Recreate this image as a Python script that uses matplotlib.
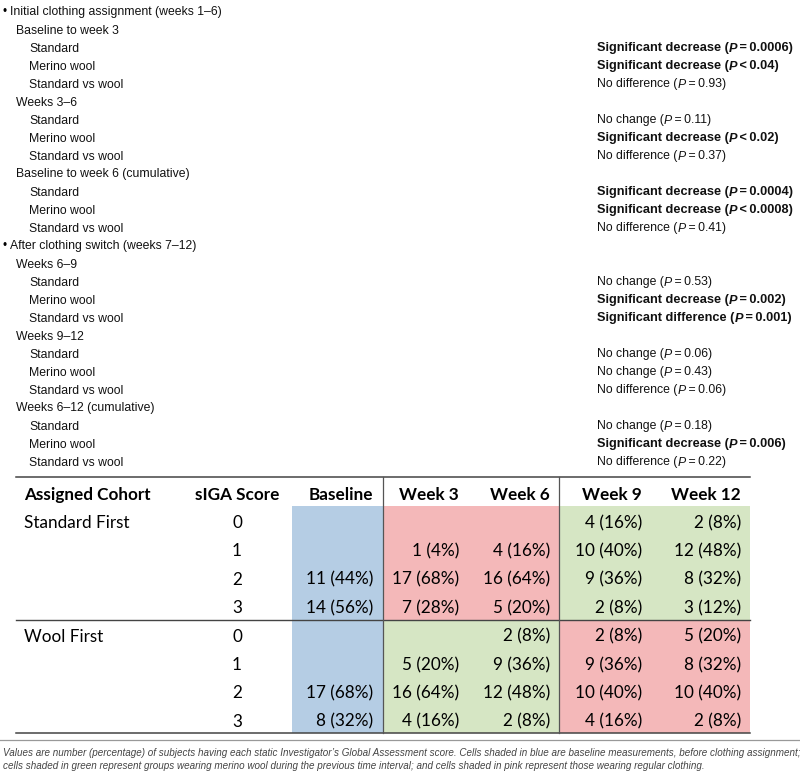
import matplotlib
matplotlib.use("Agg")
import matplotlib.pyplot as plt
from matplotlib.patches import Rectangle

# ---------- statistical summary (top block) ----------
summary_level = [0, 1, 2, 2, 2, 1, 2, 2, 2, 1, 2, 2, 2,
                 0, 1, 2, 2, 2, 1, 2, 2, 2, 1, 2, 2, 2]
summary_label = [
    "Initial clothing assignment (weeks 1\u20136)",
    "Baseline to week 3", "Standard", "Merino wool", "Standard vs wool",
    "Weeks 3\u20136", "Standard", "Merino wool", "Standard vs wool",
    "Baseline to week 6 (cumulative)", "Standard", "Merino wool", "Standard vs wool",
    "After clothing switch (weeks 7\u201312)",
    "Weeks 6\u20139", "Standard", "Merino wool", "Standard vs wool",
    "Weeks 9\u201312", "Standard", "Merino wool", "Standard vs wool",
    "Weeks 6\u201312 (cumulative)", "Standard", "Merino wool", "Standard vs wool",
]
# (result text, comparison sign, P value) -- empty for heading lines
summary_result = ["", "", "Significant decrease", "Significant decrease", "No difference",
                  "", "No change", "Significant decrease", "No difference",
                  "", "Significant decrease", "Significant decrease", "No difference",
                  "", "", "No change", "Significant decrease", "Significant difference",
                  "", "No change", "No change", "No difference",
                  "", "No change", "Significant decrease", "No difference"]
summary_sign = ["", "", "=", "<", "=", "", "=", "<", "=", "", "=", "<", "=",
                "", "", "=", "=", "=", "", "=", "=", "=", "", "=", "=", "="]
summary_p = ["", "", "0.0006", "0.04", "0.93", "", "0.11", "0.02", "0.37",
             "", "0.0004", "0.0008", "0.41", "", "", "0.53", "0.002", "0.001",
             "", "0.06", "0.43", "0.06", "", "0.18", "0.006", "0.22"]

# ---------- sIGA table ----------
cohorts = ["Standard First", "Wool First"]
scores = ["0", "1", "2", "3"]
columns = ["Baseline", "Week 3", "Week 6", "Week 9", "Week 12"]
std_counts = [[None, None, 11, 14], [None, 1, 17, 7], [None, 4, 16, 5],
              [4, 10, 9, 2], [2, 12, 8, 3]]
std_pct = [[None, None, 44, 56], [None, 4, 68, 28], [None, 16, 64, 20],
           [16, 40, 36, 8], [8, 48, 32, 12]]
wool_counts = [[None, None, 17, 8], [None, 5, 16, 4], [2, 9, 12, 2],
               [2, 9, 10, 4], [5, 8, 10, 2]]
wool_pct = [[None, None, 68, 32], [None, 20, 64, 16], [8, 36, 48, 8],
            [8, 36, 40, 16], [20, 32, 40, 8]]
# shading per cohort per column: B = baseline, W = wool, S = standard clothing
std_shade = ["B", "S", "S", "W", "W"]
wool_shade = ["B", "W", "W", "S", "S"]

footnote = [
    "Values are number (percentage) of subjects having each static Investigator\u2019s Global "
    "Assessment score. Cells shaded in blue are baseline measurements, before clothing assignment;",
    "cells shaded in green represent groups wearing merino wool during the previous time interval; "
    "and cells shaded in pink represent those wearing regular clothing.",
]

SHADE = {"B": "#b5cde4", "W": "#d6e6c4", "S": "#f4b8b9"}
TOP_FONT = "Liberation Sans"
TAB_FONT = "Lato"
TOP_FS = 8.8
TAB_FS = 12.3

fig = plt.figure(figsize=(8.0, 7.73), dpi=100)
ax = fig.add_axes([0, 0, 1, 1])
ax.set_xlim(0, 800)
ax.set_ylim(773, 0)
ax.axis("off")

# ---------- top block ----------
indent = [10, 16, 29]
for i, (lvl, lab) in enumerate(zip(summary_level, summary_label)):
    yb = 15.5 + 18 * i
    if lvl == 0:
        ax.text(2.5, yb, "\u2022", fontsize=TOP_FS - 0.3, family=TOP_FONT, va="baseline")
    ax.text(indent[lvl], yb, lab, fontsize=TOP_FS, family=TOP_FONT, va="baseline", color="#111")
    res = summary_result[i]
    if not res:
        continue
    bold = res.startswith("Significant")
    w = "bold" if bold else "normal"
    fs = 9.2 if bold else TOP_FS
    t = ax.text(597, yb, res + " (", fontsize=fs, family=TOP_FONT, fontweight=w,
                va="baseline", color="#111")
    t = ax.annotate("P", xy=(1, 0), xycoords=t, va="bottom", fontsize=fs,
                    family=TOP_FONT, fontweight=w, fontstyle="italic", color="#111")
    ax.annotate("\u2009%s\u2009%s)" % (summary_sign[i], summary_p[i]), xy=(1, 0), xycoords=t,
                va="bottom", fontsize=fs, family=TOP_FONT, fontweight=w, color="#111")

# ---------- table ----------
left, right = 16, 750
col_right = [373, 459, 550, 642, 741]
shade_edges = [(292, 383), (383, 471), (471, 559), (559, 655), (655, 750)]
top_rule, head_bottom, row_h = 477, 506, 28.4

groups = [(std_counts, std_pct, std_shade), (wool_counts, wool_pct, wool_shade)]
for g, (counts, pcts, shade) in enumerate(groups):
    g_top = head_bottom + g * 4 * row_h
    for c in range(len(columns)):
        x0, x1 = shade_edges[c]
        ax.add_patch(Rectangle((x0, g_top), x1 - x0, 4 * row_h,
                               facecolor=SHADE[shade[c]], edgecolor="none", zorder=1))
    for r, sc in enumerate(scores):
        yb = g_top + r * row_h + 22
        if r == 0:
            ax.text(24, yb, cohorts[g], fontsize=TAB_FS, family=TAB_FONT, va="baseline")
        ax.text(237, yb, sc, fontsize=TAB_FS, family=TAB_FONT, va="baseline", ha="center")
        for c in range(len(columns)):
            if counts[c][r] is None:
                continue
            ax.text(col_right[c], yb, "%d (%d%%)" % (counts[c][r], pcts[c][r]),
                    fontsize=TAB_FS, family=TAB_FONT, va="baseline", ha="right", zorder=3)

# header
hb = 500
ax.text(24, hb, "Assigned Cohort", fontsize=TAB_FS, family=TAB_FONT, fontweight="bold", va="baseline")
ax.text(279, hb, "sIGA Score", fontsize=TAB_FS, family=TAB_FONT, fontweight="bold",
        va="baseline", ha="right")
for c, name in enumerate(columns):
    ax.text(col_right[c], hb, name, fontsize=TAB_FS, family=TAB_FONT, fontweight="bold",
            va="baseline", ha="right")

bottom = head_bottom + 8 * row_h
mid = head_bottom + 4 * row_h
ax.plot([left, right], [top_rule, top_rule], color="#444", lw=1.1, zorder=4)
ax.plot([left, right], [mid, mid], color="#444", lw=1.0, zorder=4)
ax.plot([left, right], [bottom, bottom], color="#444", lw=1.1, zorder=4)
for xv in (383, 559):
    ax.plot([xv, xv], [top_rule, bottom], color="#555", lw=0.9, zorder=4)

# footnote
ax.plot([0, 800], [739.5, 739.5], color="#999", lw=0.9)
for k, line in enumerate(footnote):
    ax.text(3, 756 + 13 * k, line, fontsize=7.1, family=TOP_FONT, fontstyle="italic",
            color="#444", va="baseline")

fig.savefig("out.png", dpi=100, facecolor="white")
